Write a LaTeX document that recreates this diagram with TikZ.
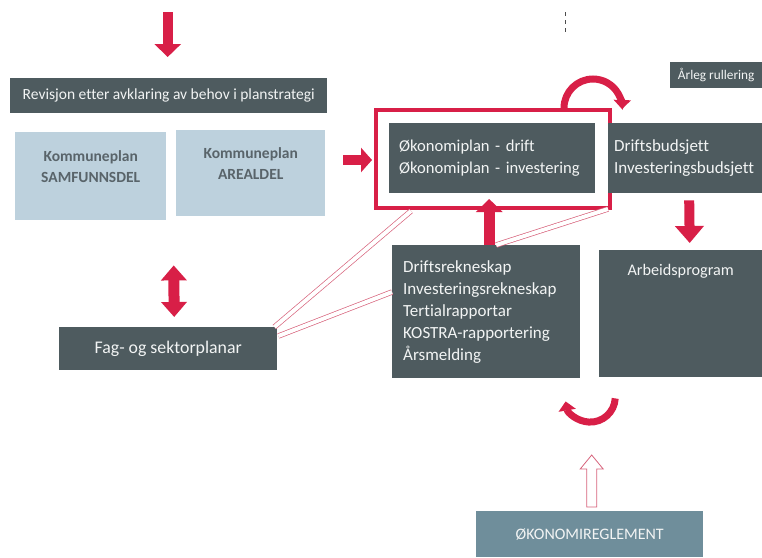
\documentclass[tikz,border=0pt]{standalone}
\usepackage{fontspec}
\setmainfont{Carlito}[Ligatures={NoCommon}]
\usetikzlibrary{arrows.meta,calc}
\definecolor{slate}{HTML}{4E5B5F}
\definecolor{paleblue}{HTML}{BDD1DD}
\definecolor{kred}{HTML}{D81F47}
\definecolor{steel}{HTML}{6F8E9B}
\definecolor{kgrey}{HTML}{59646A}
\definecolor{pinkline}{HTML}{D7637C}
\definecolor{boxtext}{HTML}{F2F4F4}

\begin{document}
\begin{tikzpicture}[x=1pt,y=-1pt,
  darkbox/.style={fill=slate, draw=none, text=boxtext, inner sep=0pt, anchor=north west},
  palebox/.style={fill=paleblue, draw=none, inner sep=0pt, anchor=north west},
  paletext/.style={text=kgrey, font=\bfseries\fontsize{15.5}{21}\selectfont, align=center, inner sep=0pt},
  bodyfont/.style={font=\fontsize{17}{22}\selectfont},
  redarrow/.style={draw=kred, line width=10pt, -{Triangle[width=26pt,length=13pt]}},
  bothways/.style={draw=kred, line width=11pt, {Triangle[width=25pt,length=15pt]}-{Triangle[width=25pt,length=15pt]}},
  curlarrow/.style={draw=kred, line width=7pt, -{Triangle[width=17pt,length=9pt]}},
  twinline/.style={draw=pinkline, line width=0.7pt, double=white, double distance=4pt},
  hollowarrow/.style={draw=pinkline, line width=0.8pt, fill=white, line join=miter}
]
\useasboundingbox (0,0) rectangle (762,557);

% --- left column ---
\node[darkbox, minimum width=317, minimum height=35, font=\fontsize{15.5}{17}\selectfont] (rev) at (10,78)
  {Revisjon etter avklaring av behov i planstrategi};
\node[palebox, minimum width=151, minimum height=88] (samf) at (15,132) {};
\node[paletext] (samft) at ($(samf.center)+(0,-10)$) {Kommuneplan\\SAMFUNNSDEL};
\node[palebox, minimum width=149, minimum height=86] (areal) at (176,130) {};
\node[paletext] (arealt) at ($(areal.center)+(0,-10)$) {Kommuneplan\\AREALDEL};
\node[darkbox, minimum width=218, minimum height=43, font=\fontsize{17.8}{20}\selectfont] (fag) at (59,327)
  {Fag- og sektorplanar};

% --- economy plan in its red frame ---
\node[draw=kred, line width=4pt, minimum width=234, minimum height=98, anchor=north west, inner sep=0pt] (frame) at (374,108) {};
\node[darkbox, font=\fontsize{16.6}{22}\selectfont, minimum width=206, minimum height=70, text width=186, align=left] (okon) at (389,123)
  {Økonomiplan - drift\\Økonomiplan - investering};

% --- right column ---
\node[darkbox, bodyfont, minimum width=154, minimum height=70, text width=142, align=left] (budsj) at (608,123)
  {Driftsbudsjett\\Investeringsbudsjett};
\node[darkbox, minimum width=92, minimum height=26, font=\fontsize{13.3}{14}\selectfont] (arleg) at (670,62)
  {Årleg rullering};
\node[darkbox, bodyfont, minimum width=188, minimum height=133, text width=166, align=left] (drekn) at (392,245)
  {Driftsrekneskap\\Investeringsrekneskap\\Tertialrapportar\\KOSTRA-rapportering\\Årsmelding};
\node[darkbox, minimum width=163, minimum height=127] (arb) at (599,250) {};
\node[text=boxtext, font=\fontsize{16.2}{18}\selectfont, inner sep=0pt] (arbt) at ($(arb.north)+(0,21)$) {Arbeidsprogram};
\node[darkbox, fill=steel, minimum width=227, minimum height=46, font=\fontsize{16}{18}\selectfont] (reg) at (476,511)
  {ØKONOMIREGLEMENT};

% --- incoming mark at the top ---
\coordinate (mark) at (565,12);
\draw[black!70, line width=0.9pt, dash pattern=on 4pt off 4pt] (mark) -- ++(0,21);

% --- solid red arrows ---
\draw[redarrow] ($(rev.north)+(-1,-66)$) -- ($(rev.north)+(-1,-21)$);
\draw[redarrow, -{Triangle[width=24pt,length=11pt]}] ($(frame.west)+(-31,1)$) -- ($(frame.west)+(-2,1)$);
\draw[redarrow, line width=11pt] ($(drekn.north)+(3,0)$) -- ($(drekn.north)+(3,-46)$);
\draw[redarrow, -{Triangle[width=28pt,length=17pt]}] ($(budsj.south)+(4,7)$) -- ($(arb.north)+(9,-7)$);
\draw[bothways] ($(samf.south)+(83,45)$) -- ($(fag.north)+(6,-10)$);

% --- curved red arrows ---
\draw[curlarrow] ($(frame.north)+(71,0)$) arc[start angle=180, end angle=362, radius=29];
\draw[curlarrow] ($(drekn.south)+(129,20)$) arc[start angle=3, end angle=170, radius=25];

% --- thin twin-line links ---
\draw[twinline] ($(fag.north east)+(-3,0)$) -- ($(frame.south west)+(37,1)$);
\draw[twinline] ($(fag.north east)+(1,9)$) -- ($(drekn.north west)+(0,47)$);
\draw[twinline] ($(drekn.north)+(10,0)$) -- ($(frame.south east)+(-4,-1)$);

% --- hollow arrow from the regulations ---
\draw[hollowarrow] ($(reg.north)+(-3,-4)$) -- ++(0,-38) -- ++(-6.5,0) -- ++(11.5,-14)
  -- ++(11.5,14) -- ++(-6.5,0) -- ++(0,38) -- cycle;
\end{tikzpicture}
\end{document}
